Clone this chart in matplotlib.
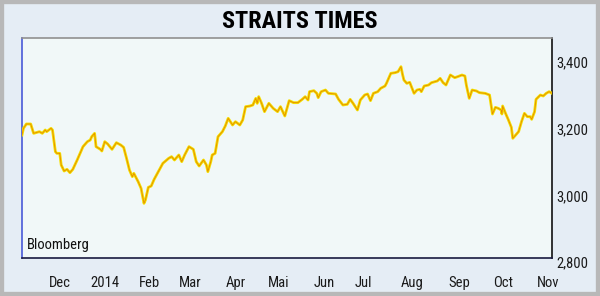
import numpy as np
import pandas as pd
import matplotlib
matplotlib.use("Agg")
import matplotlib.pyplot as plt
import matplotlib.dates as mdates
import matplotlib.transforms as mtransforms
from matplotlib.patches import Rectangle

# ---- data ----
start_date = "2013-11-12"
day_offset = [0, 1, 3, 6, 8, 12, 14, 16, 17, 20, 21, 23, 24, 26, 27, 29, 31, 33, 35, 38,
              40, 42, 45, 47, 48, 50, 51, 54, 55, 57, 59, 62, 65, 68, 70, 72, 74, 76, 77, 80,
              82, 84, 85, 87, 89, 91, 97, 101, 103, 105, 108, 110, 112, 115, 118, 120, 122, 125, 127, 128,
              130, 131, 133, 135, 138, 140, 142, 145, 147, 150, 152, 154, 157, 159, 161, 162, 163, 165, 167, 170,
              173, 176, 178, 181, 184, 187, 190, 193, 195, 197, 198, 201, 203, 204, 206, 209, 211, 216, 218, 221,
              224, 226, 228, 231, 233, 236, 238, 240, 242, 245, 247, 250, 251, 254, 257, 259, 261, 262, 263, 265,
              267, 270, 272, 274, 275, 277, 280, 282, 286, 288, 290, 292, 295, 298, 300, 303, 305, 306, 308, 310,
              313, 315, 319, 322, 324, 326, 328, 330, 330.5, 331, 333, 335, 337, 338, 341, 342, 344, 346, 348, 350,
              351, 353, 354, 357, 359, 361, 363, 365]
sti = [3169, 3189, 3202, 3202, 3174, 3179, 3174, 3184, 3179, 3189, 3184, 3119, 3114, 3114, 3079, 3061, 3066, 3056, 3066, 3094,
       3114, 3134, 3149, 3154, 3164, 3174, 3134, 3126, 3121, 3149, 3142, 3126, 3146, 3139, 3132, 3099, 3064, 3044, 3054, 3029,
       3009, 2964, 2974, 3012, 3016, 3036, 3084, 3099, 3104, 3094, 3109, 3089, 3109, 3134, 3126, 3089, 3076, 3094, 3079, 3059,
       3089, 3109, 3114, 3164, 3179, 3196, 3219, 3199, 3209, 3199, 3214, 3254, 3256, 3259, 3279, 3264, 3284, 3264, 3239, 3264,
       3249, 3239, 3254, 3226, 3272, 3266, 3266, 3276, 3284, 3274, 3299, 3302, 3294, 3281, 3299, 3304, 3294, 3292, 3276, 3259,
       3261, 3276, 3264, 3244, 3274, 3289, 3292, 3272, 3294, 3299, 3309, 3316, 3324, 3354, 3356, 3359, 3374, 3352, 3334, 3324,
       3327, 3294, 3304, 3306, 3299, 3316, 3319, 3326, 3331, 3339, 3326, 3319, 3349, 3341, 3344, 3349, 3346, 3319, 3279, 3304,
       3301, 3296, 3294, 3289, 3232, 3252, 3249, 3244, 3232, 3256, 3234, 3214, 3192, 3159, 3174, 3179, 3209, 3234, 3224, 3224,
       3216, 3239, 3276, 3289, 3286, 3294, 3299, 3294]
month_labels = ["Dec", "2014", "Feb", "Mar", "Apr", "Mai", "Jun", "Jul", "Aug", "Sep", "Oct", "Nov"]
month_ticks = ["2013-12-08", "2014-01-08", "2014-02-08", "2014-03-08", "2014-04-08", "2014-05-08",
               "2014-06-08", "2014-07-05", "2014-08-08", "2014-09-09", "2014-10-09", "2014-11-09"]
y_ticks = [2800, 3000, 3200, 3400]
y_labels = ["2,800", "3,000", "3,200", "3,400"]
title = "STRAITS TIMES"
source = "Bloomberg"

n = min(len(day_offset), len(sti))
dates = pd.Timestamp(start_date) + pd.to_timedelta(np.array(day_offset[:n]), unit="D")
vals = np.array(sti[:n])

cond = ["Liberation Sans Narrow", "Roboto Condensed", "DejaVu Sans"]

fig = plt.figure(figsize=(6.0, 2.96), dpi=100)
fig.patch.set_facecolor("#e5edf5")
# outer frame
fig.patches.append(Rectangle((0, 0), 1, 1, transform=fig.transFigure, fill=False,
                             edgecolor="#b8b8b8", linewidth=6, zorder=0))

ax = fig.add_axes([22/600, 1-258/296, 530/600, 220/296])
ax.set_facecolor("#f1f8f8")
ax.plot(dates, vals, color="#f4e000", linewidth=2.0, solid_joinstyle="round", zorder=3)
ax.plot(dates, vals, color="#e26a00", linewidth=0.6, alpha=0.75, zorder=4)

ax.set_xlim(pd.Timestamp(start_date), pd.Timestamp(start_date) + pd.Timedelta(days=365))
ax.set_ylim(2800, 3460)

ax.set_xticks(pd.to_datetime(month_ticks))
ax.set_xticklabels(month_labels, fontfamily=cond, fontsize=10.5, color="#1a1a1a")
ax.yaxis.tick_right()
ax.set_yticks(y_ticks)
ax.set_yticklabels(y_labels, fontfamily=cond, fontsize=10.5, color="#1a1a1a")
ax.tick_params(axis="x", length=0, pad=13)
ax.tick_params(axis="y", length=0, pad=3)
offset = mtransforms.ScaledTranslation(0, -4/100, fig.dpi_scale_trans)
for lab in ax.get_yticklabels():
    lab.set_transform(lab.get_transform() + offset)

ax.spines["left"].set_color("#4a5ad8")
ax.spines["top"].set_color("#909090")
ax.spines["right"].set_color("#111111")
ax.spines["bottom"].set_color("#1a1a40")
for s in ax.spines.values():
    s.set_linewidth(1.2)

ax.text(5/530, 6/220, source, transform=ax.transAxes, fontfamily=cond,
        fontsize=10.5, color="#111111", ha="left", va="bottom")

fig.text(0.5, 1-21/296, title, ha="center", va="center", fontfamily=cond,
         fontweight="bold", fontsize=17.5, color="#000000")

fig.savefig("out.png", dpi=100, facecolor=fig.get_facecolor())
